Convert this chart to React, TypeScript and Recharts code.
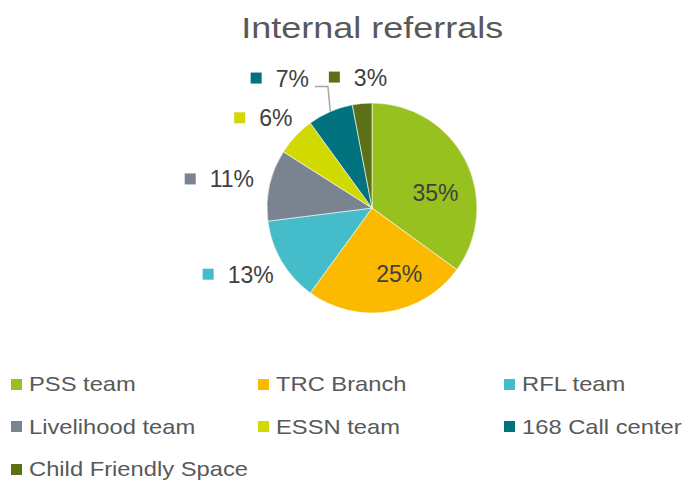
import React from 'react';
import { PieChart, Pie, Cell, Legend } from 'recharts';

const categories = ['PSS team', 'TRC Branch', 'RFL team', 'Livelihood team', 'ESSN team', '168 Call center', 'Child Friendly Space'];
const shares = [35, 25, 13, 11, 6, 7, 3];
const colors = ['#97C11F', '#FBBA00', '#45BCCA', '#7A8390', '#D0D900', '#00737E', '#5C7115'];
const title = 'Internal referrals';

const data = categories.map((name, i) => ({ name, value: shares[i] }));

const RAD = Math.PI / 180;
const FONT = '"Liberation Sans", Arial, sans-serif';
const LABEL_FS = 23;

const textWidth = (s: string) => {
  let w = 0;
  for (const ch of s) w += ch === '%' ? 0.889 : 0.556;
  return w * LABEL_FS;
};

// label placement tweaks (angle shift in degrees, radial factor / gap)
const insidePlace: Record<number, { shift: number; r: number }> = {
  0: { shift: -14, r: 0.62 },
  1: { shift: 13.4, r: 0.68 },
};
const outsidePlace: Record<number, { shift: number; gap: number; leader?: boolean }> = {
  5: { shift: 9.1, gap: 37.5, leader: true },
};

const renderLabel = (props: any) => {
  const { cx, cy, midAngle, outerRadius, index, value } = props;
  const text = `${value}%`;
  const tw = textWidth(text);
  if (insidePlace[index]) {
    const p = insidePlace[index];
    const a = (midAngle + p.shift) * RAD;
    const x = cx + outerRadius * p.r * Math.cos(-a);
    const y = cy + outerRadius * p.r * Math.sin(-a);
    return (
      <text key={`l${index}`} x={x} y={y + LABEL_FS * 0.35} textAnchor="middle" fill="#404040" fontSize={LABEL_FS} fontFamily={FONT}>
        {text}
      </text>
    );
  }
  const o = outsidePlace[index] || { shift: 0, gap: 15 };
  const a = (midAngle + o.shift) * RAD;
  const ux = Math.cos(-a);
  const uy = Math.sin(-a);
  const px = cx + (outerRadius + o.gap) * ux;
  const py = cy + (outerRadius + o.gap) * uy;
  const w = 25 + tw;
  const h = 22;
  const bcx = px + (ux * w) / 2;
  const bcy = py + (uy * h) / 2;
  const left = bcx - w / 2;
  let leader = null;
  if (o.leader) {
    const ma = midAngle * RAD;
    const ex = cx + outerRadius * Math.cos(-ma);
    const ey = cy + outerRadius * Math.sin(-ma);
    const sx = left + w + 6;
    const sy = bcy + 8;
    leader = (
      <polyline points={`${sx},${sy} ${sx + 13},${sy} ${ex},${ey}`} fill="none" stroke="#A6A6A6" strokeWidth={1.5} />
    );
  }
  return (
    <g key={`l${index}`}>
      {leader}
      <rect x={left} y={bcy - 6} width={11} height={11} fill={colors[index]} />
      <text x={left + 25} y={bcy + LABEL_FS * 0.35} textAnchor="start" fill="#404040" fontSize={LABEL_FS} fontFamily={FONT}>
        {text}
      </text>
    </g>
  );
};

const colX = [11, 258, 504];
const renderLegend = () => {
  return (
    <div style={{ position: 'relative', width: 682, height: 110 }}>
      {categories.map((name, i) => {
        const col = i % 3;
        const row = Math.floor(i / 3);
        const top = row * 42.5;
        return (
          <div key={name} style={{ position: 'absolute', left: colX[col], top, height: 22, display: 'flex', alignItems: 'center' }}>
            <div style={{ width: 11, height: 11, background: colors[i] }} />
            <div
              style={{
                marginLeft: 7,
                fontSize: 21,
                fontFamily: FONT,
                color: '#595959',
                transform: 'scaleX(1.13)',
                transformOrigin: 'left center',
                whiteSpace: 'nowrap',
                lineHeight: '22px',
              }}
            >
              {name}
            </div>
          </div>
        );
      })}
    </div>
  );
};

export default function App() {
  return (
    <div style={{ position: 'absolute', left: 0, top: 0, width: 682, height: 482, background: '#fff', overflow: 'hidden' }}>
      <div
        style={{
          position: 'absolute',
          left: 0,
          top: 10,
          width: 682,
          textAlign: 'center',
          fontFamily: FONT,
          fontSize: 30,
          lineHeight: '36px',
          color: '#595959',
        }}
      >
        <span style={{ display: 'inline-block', transform: 'scaleX(1.2)', marginLeft: 62 }}>{title}</span>
      </div>
      <PieChart width={682} height={482} margin={{ top: 0, right: 0, bottom: 0, left: 0 }} style={{ position: 'absolute', left: 0, top: 0 }}>
        <Pie
          data={data}
          dataKey="value"
          nameKey="name"
          cx={372}
          cy={208}
          outerRadius={105}
          startAngle={90}
          endAngle={-270}
          stroke="#ffffff"
          strokeWidth={0.6}
          label={renderLabel}
          labelLine={false}
          isAnimationActive={false}
        >
          {data.map((d, i) => (
            <Cell key={d.name} fill={colors[i]} />
          ))}
        </Pie>
        <Legend content={renderLegend} wrapperStyle={{ position: 'absolute', left: 0, top: 373, width: 682, height: 110 }} />
      </PieChart>
    </div>
  );
}
